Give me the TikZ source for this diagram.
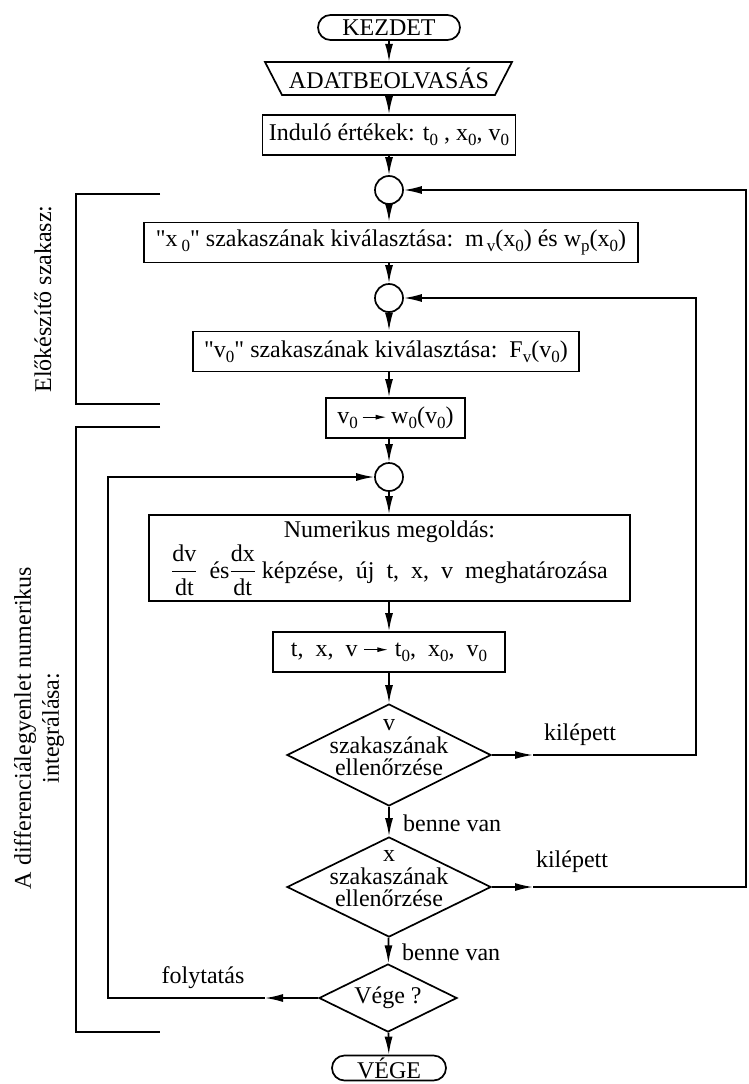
\documentclass[tikz,border=0pt]{standalone}
\usepackage{fontspec}
\setmainfont{Liberation Serif}[Ligatures=TeXOff]
\usetikzlibrary{shapes.geometric,shapes.misc,arrows.meta}
\newcommand{\ssub}[1]{\raisebox{-0.2em}{\fontsize{17}{17}\selectfont #1}}
\newcommand{\sarrow}{\tikz[baseline=-0.6ex]\draw[line width=1.2pt,-{Latex[length=11pt,width=5pt]}] (0,0) -- (24pt,0);}
\newcommand{\ffrac}[2]{$\displaystyle{\hbox{#1}\above1.3pt\hbox{#2}}$}
\begin{document}
\begin{tikzpicture}[x=1pt,y=-1pt,
  every node/.style={font=\fontsize{24}{22.5}\selectfont},
  box/.style={draw, line width=1.7pt, inner sep=0pt, minimum height=40pt},
  term/.style={draw, rounded rectangle, line width=1.7pt, inner sep=0pt, minimum height=25pt},
  conn/.style={draw, circle, line width=1.7pt, minimum size=28pt, inner sep=0pt},
  dec/.style={draw, diamond, line width=1.7pt, inner sep=0pt},
  arr/.style={line width=1.6pt, -{Latex[length=18pt,width=8pt]}},
  ln/.style={line width=1.6pt},
  lbl/.style={inner sep=0pt}
]
\useasboundingbox (0,0) rectangle (749,1084);

% main column
\node[term, minimum width=142pt] (kez) at (389,27.5) {KEZDET};
\node[inner sep=0pt, minimum height=33pt] (adat) at (389,78.5) {ADATBEOLVASÁS};
\draw[line width=1.7pt] (265,62) -- (512,62) -- (495,95) -- (282,95) -- cycle;
\node[box, minimum width=253pt] (ind) at (389,135) {Induló értékek: t\ssub{0} , x\ssub{0}, v\ssub{0}};
\node[conn] (c1) at (389,190) {};
\node[box, minimum width=494pt] (xsz) at (391,242.5) {"x\hspace{4pt}\ssub{0}" szakaszának kiválasztása:~~m\hspace{3pt}\ssub{v}(x\ssub{0}) és w\ssub{p}(x\ssub{0})};
\node[conn] (c2) at (389,298) {};
\node[box, minimum width=386pt] (vsz) at (386,351.5) {"v\ssub{0}" szakaszának kiválasztása:~~F\ssub{v}(v\ssub{0})};
\node[box, minimum width=139pt] (w0) at (395.5,418) {v\ssub{0}\,\sarrow\,w\ssub{0}(v\ssub{0})};
\node[conn] (c3) at (389,477) {};
\node[box, minimum width=481pt, minimum height=86pt, align=center, font=\fontsize{24}{26}\selectfont] (num) at (389.5,558) {Numerikus megoldás:\\[1pt]\ffrac{dv}{dt}~~és\ffrac{dx}{dt}~képzése,~~új~~t,~~x,~~v~~meghatározása};
\node[box, minimum width=232pt] (txv) at (389,652) {t,~~x,~~v~\sarrow~t\ssub{0},~~x\ssub{0},~~v\ssub{0}};
\node[dec, minimum width=204pt, minimum height=102pt] (d1) at (389,755) {};
\node[lbl, align=center] (d1t) at (389,748) {v\\szakaszának\\ellenőrzése};
\node[dec, minimum width=204pt, minimum height=100pt] (d2) at (389,887) {};
\node[lbl, align=center] (d2t) at (389,879) {x\\szakaszának\\ellenőrzése};
\node[dec, minimum width=138pt, minimum height=68pt] (d3) at (388,998) {};
\node[lbl] (d3t) at (388,998) {Vége ?};
\node[term, minimum width=114pt] (vege) at (389,1068) {VÉGE};

% vertical flow
\draw[arr] (kez) -- (adat);
\draw[arr] (adat) -- (ind);
\draw[arr] (ind) -- (c1);
\draw[arr] (c1) -- (c1 |- xsz.north);
\draw[arr] (c1 |- xsz.south) -- (c2);
\draw[arr] (c2) -- (c2 |- vsz.north);
\draw[arr] (c2 |- vsz.south) -- (c2 |- w0.north);
\draw[arr] (c3 |- w0.south) -- (c3);
\draw[arr] (c3) -- (c3 |- num.north);
\draw[arr] (c3 |- num.south) -- (c3 |- txv.north);
\draw[arr] (txv) -- (d1);
\draw[arr] (d1) -- (d2);
\draw[arr] (d2) -- (d3);
\draw[arr] (d3) -- (vege);

% loops
\coordinate (m1) at (533,755); \coordinate (r1) at (696,755);
\draw[arr] (d1.east) -- (m1);
\draw[arr] (m1) -- (r1) |- (c2);
\coordinate (m2) at (533,887); \coordinate (r2) at (746,887);
\draw[arr] (d2.east) -- (m2);
\draw[arr] (m2) -- (r2) |- (c1);
\coordinate (m3) at (265,998); \coordinate (l3) at (108,998);
\draw[arr] (d3.west) -- (m3);
\draw[arr] (m3) -- (l3) |- (c3);

% labels
\node[lbl] (kil1) at (580,735) {kilépett};
\node[lbl] (kil2) at (572,862) {kilépett};
\node[lbl, anchor=west] (ben1) at (403,823) {benne van};
\node[lbl, anchor=west] (ben2) at (402,952) {benne van};
\node[lbl] (foly) at (203,978) {folytatás};

% brackets
\draw[ln] (160,194) -- (76,194) -- (76,404) -- (160,404);
\draw[ln] (160,427) -- (76,427) -- (76,1032) -- (160,1032);
\node[lbl, rotate=90] (elo) at (43,299) {Előkészítő szakasz:};
\node[lbl, rotate=90, align=center, font=\fontsize{24}{28}\selectfont] (diff) at (39,728) {A differenciálegyenlet numerikus\\integrálása:};
\end{tikzpicture}
\end{document}
